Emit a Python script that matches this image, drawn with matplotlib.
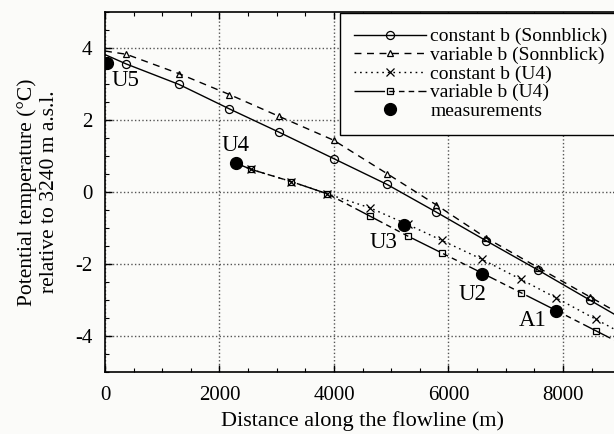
import numpy as np
import matplotlib
matplotlib.use("Agg")
import matplotlib.pyplot as plt

plt.rcParams['font.family'] = ['Liberation Serif', 'DejaVu Serif']
plt.rcParams['axes.unicode_minus'] = False

# model points along the flowline (first/last entries are the line ends, no marker)
x_sonn = [0, 371, 1294, 2175, 3032, 3995, 4929, 5791, 6655, 7568, 8479, 9000]
y_const_sonn = [3.82, 3.56, 2.99, 2.31, 1.67, 0.93, 0.21, -0.56, -1.35, -2.17, -3.01, -3.49]
y_var_sonn = [3.92, 3.83, 3.29, 2.71, 2.11, 1.44, 0.51, -0.36, -1.27, -2.10, -2.92, -3.39]

x_u4 = [2294, 2553, 3256, 3886, 4630, 5286, 5880, 6586, 7270, 7880, 8581, 9000]
y_const_u4 = [0.80, 0.63, 0.29, -0.05, -0.44, -0.90, -1.34, -1.87, -2.43, -2.94, -3.54, -3.90]
y_var_u4 = [0.80, 0.63, 0.29, -0.05, -0.67, -1.22, -1.69, -2.25, -2.80, -3.29, -3.86, -4.20]

# measurements
stations = ['U5', 'U4', 'U3', 'U2', 'A1']
x_meas = [30, 2294, 5227, 6586, 7880]
y_meas = [3.59, 0.80, -0.92, -2.29, -3.31]
x_lab = [360, 2288, 4857, 6422, 7470]
y_lab = [3.11, 1.28, -1.41, -2.86, -3.57]

fig = plt.figure(figsize=(6.14, 4.34), dpi=100)
fig.patch.set_facecolor('#fbfbf9')
ax = fig.add_axes([0.171, 0.143, 0.839, 0.829])
ax.set_facecolor('#fbfbf9')

mk = slice(1, -1)
ax.plot(x_sonn, y_const_sonn, color='k', lw=1, marker='o', ms=5.8, mfc='none',
        mew=0.9, markevery=mk, label='constant b (Sonnblick)')
ax.plot(x_sonn, y_var_sonn, color='k', lw=1, ls=(0, (5, 4)), marker='^', ms=5,
        mfc='none', mew=0.9, markevery=mk, label='variable b (Sonnblick)')
ax.plot(x_u4, y_const_u4, color='k', lw=1, ls=(0, (1.2, 2.8)), marker='x', ms=5.5,
        mew=0.9, markevery=mk, label='constant b (U4)')
ax.plot(x_u4, y_var_u4, color='k', lw=1, ls=(0, (22, 3, 4, 3, 4, 3, 4, 3)), marker='s',
        ms=5, mfc='none', mew=0.9, markevery=mk, label='variable b (U4)')
ax.plot(x_meas, y_meas, 'o', color='k', ms=8.5, ls='none', label='measurements', zorder=5)

for name, xl, yl in zip(stations, x_lab, y_lab):
    ax.text(xl, yl, name, fontsize=16.5, ha='center', va='center')

ax.set_xlim(0, 9000)
ax.set_ylim(-5, 5)
ax.set_xticks([0, 2000, 4000, 6000, 8000])
ax.set_xticks(np.arange(0, 9001, 500), minor=True)
ax.set_yticks([-4, -2, 0, 2, 4])
ax.set_yticks(np.arange(-5, 5.01, 0.5), minor=True)
ax.tick_params(which='both', direction='in', top=True, right=True, labelsize=15)
ax.tick_params(which='major', length=5, width=1)
ax.tick_params(which='minor', length=3, width=0.8)
ax.tick_params(axis='x', pad=10)
ax.tick_params(axis='y', pad=9)
ax.grid(True, which='major', ls=':', color='#555555', lw=1)
for s in ax.spines.values():
    s.set_linewidth(1.2)

ax.set_xlabel('Distance along the flowline (m)', fontsize=16)
ax.xaxis.set_label_coords(0.5, -0.108)
ax.set_ylabel('Potential temperature (°C)\nrelative to 3240 m a.s.l.', fontsize=15.5,
              linespacing=1.2)
ax.yaxis.set_label_coords(-0.09, 0.5)

leg = ax.legend(loc='upper left', bbox_to_anchor=(0.456, 0.0, 0.56, 0.997), mode='expand',
                fontsize=14, handlelength=3.7, labelspacing=0.05, borderpad=0.75,
                handletextpad=0.2, borderaxespad=0, fancybox=False, edgecolor='k',
                framealpha=1, facecolor='#fbfbf9')
leg.get_frame().set_linewidth(1)

fig.savefig('out.png', dpi=100, facecolor=fig.get_facecolor())
